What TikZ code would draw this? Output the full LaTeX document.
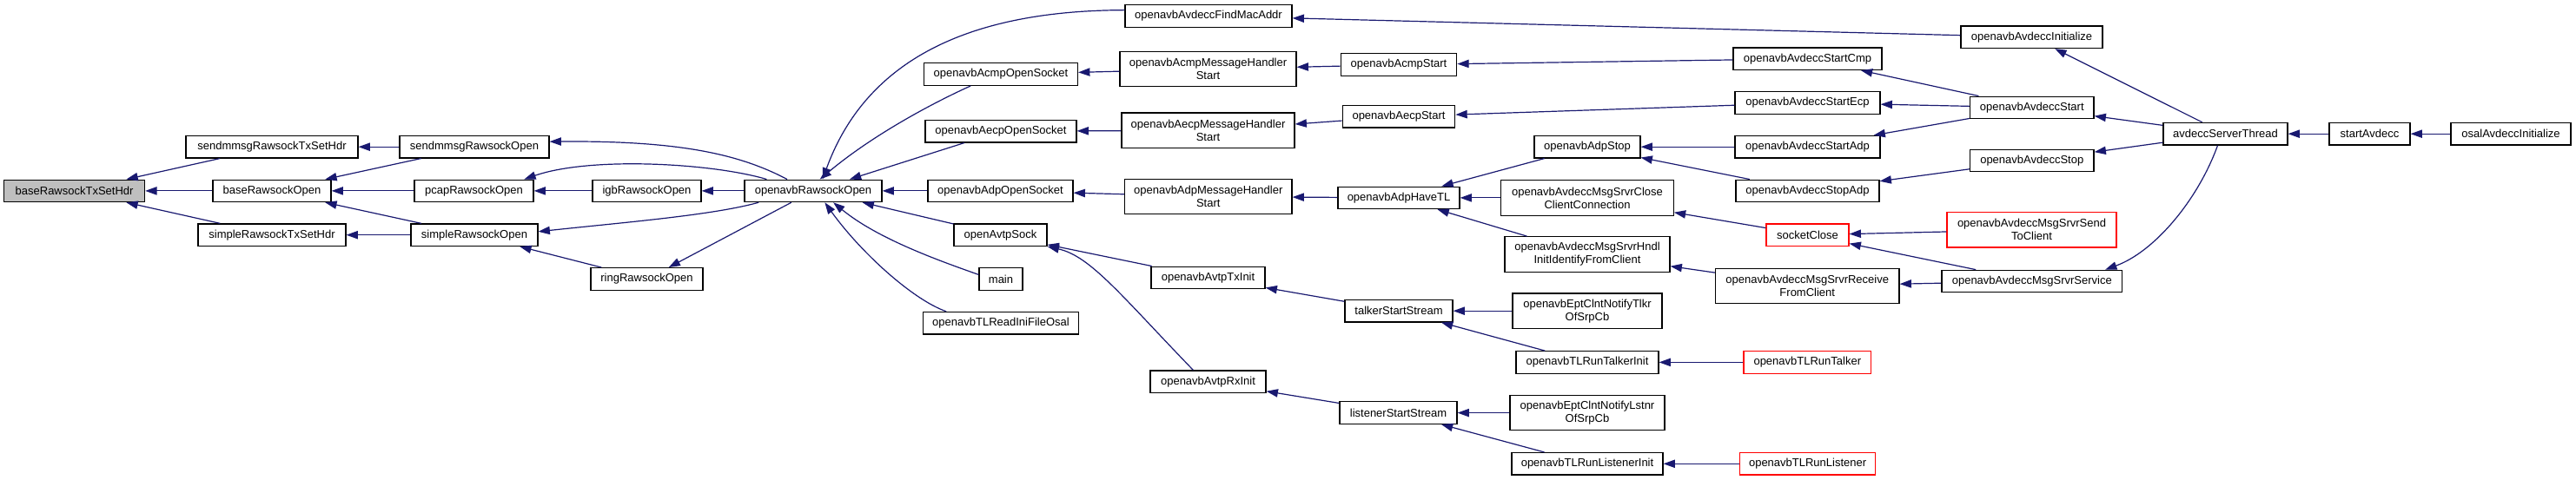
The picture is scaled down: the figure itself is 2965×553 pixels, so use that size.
\documentclass[tikz,border=0pt]{standalone}
\usepackage{fontspec}
\setmainfont{Liberation Sans}
\usetikzlibrary{arrows.meta}
\definecolor{edgeblue}{HTML}{191970}
\definecolor{rootgrey}{HTML}{BFBFBF}
\tikzset{
  fn/.style={draw=black, line width=1.2pt, inner sep=0pt, minimum height=25.5pt,
    align=center, font=\fontsize{13}{15}\selectfont},
  fn2/.style={fn, minimum height=40.5pt},
  trunc/.style={draw=red},
  rootnode/.style={fill=rootgrey},
  e/.style={draw=edgeblue, line width=1.2pt, -{Triangle[length=13.3pt,width=9.3pt]}}
}
\begin{document}
\begin{tikzpicture}[x=1pt,y=-1pt]
\useasboundingbox (0,0) rectangle (2965,553);
% column 0-4
\node[fn,rootnode,minimum width=162pt] (n0) at (85.6,219.9) {baseRawsockTxSetHdr};
\node[fn,minimum width=198pt] (n1) at (313,169.2) {sendmmsgRawsockTxSetHdr};
\node[fn,minimum width=136pt] (n2) at (313,219.9) {baseRawsockOpen};
\node[fn,minimum width=170pt] (n3) at (313,270.7) {simpleRawsockTxSetHdr};
\node[fn,minimum width=172pt] (n4) at (546,169.2) {sendmmsgRawsockOpen};
\node[fn,minimum width=137pt] (n5) at (545.5,219.9) {pcapRawsockOpen};
\node[fn,minimum width=146pt] (n6) at (546,270.7) {simpleRawsockOpen};
\node[fn,minimum width=125pt] (n7) at (744.5,219.9) {igbRawsockOpen};
\node[fn,minimum width=129pt] (n8) at (744.5,321.4) {ringRawsockOpen};
\node[fn,minimum width=158pt] (n9) at (936,219.9) {openavbRawsockOpen};
% column 5
\node[fn,minimum width=177pt] (n10) at (1152,85.6) {openavbAcmpOpenSocket};
\node[fn,minimum width=174pt] (n11) at (1152,151.2) {openavbAecpOpenSocket};
\node[fn,minimum width=167pt] (n12) at (1151.5,219.9) {openavbAdpOpenSocket};
\node[fn,minimum width=107pt] (n13) at (1151.5,270.7) {openAvtpSock};
\node[fn,minimum width=50pt] (n14) at (1152,321.4) {main};
\node[fn,minimum width=178.5pt] (n15) at (1152,372.2) {openavbTLReadIniFileOsal};
% column 6
\node[fn,minimum width=192pt] (n16) at (1391,18.4) {openavbAvdeccFindMacAddr};
\node[fn2,minimum width=203pt] (n17) at (1390.5,79.6) {openavbAcmpMessageHandler\\Start};
\node[fn2,minimum width=199pt] (n18) at (1390.5,150.3) {openavbAecpMessageHandler\\Start};
\node[fn2,minimum width=192.5pt] (n19) at (1390.75,226.4) {openavbAdpMessageHandler\\Start};
\node[fn,minimum width=131pt] (n20) at (1390.5,319.9) {openavbAvtpTxInit};
\node[fn,minimum width=133pt] (n21) at (1390.5,439.8) {openavbAvtpRxInit};
% column 7
\node[fn,minimum width=133.5pt] (n22) at (1610,74.6) {openavbAcmpStart};
\node[fn,minimum width=129.5pt] (n23) at (1610,134.3) {openavbAecpStart};
\node[fn,minimum width=140pt] (n24) at (1610,227.9) {openavbAdpHaveTL};
\node[fn,minimum width=124pt] (n25) at (1610,358.2) {talkerStartStream};
\node[fn,minimum width=135pt] (n26) at (1609.5,475.6) {listenerStartStream};
% column 8
\node[fn,minimum width=122pt] (n27) at (1827,169.2) {openavbAdpStop};
\node[fn2,minimum width=198.5pt] (n28) at (1827,227.9) {openavbAvdeccMsgSrvrClose\\ClientConnection};
\node[fn2,minimum width=190pt] (n29) at (1827,293) {openavbAvdeccMsgSrvrHndl\\InitIdentifyFromClient};
\node[fn2,minimum width=172pt] (n30) at (1827,358.2) {openavbEptClntNotifyTlkr\\OfSrpCb};
\node[fn,minimum width=164pt] (n31) at (1827,417.4) {openavbTLRunTalkerInit};
\node[fn2,minimum width=178pt] (n32) at (1827,475.6) {openavbEptClntNotifyLstnr\\OfSrpCb};
\node[fn,minimum width=174pt] (n33) at (1827,534.3) {openavbTLRunListenerInit};
% column 9
\node[fn,minimum width=171pt] (n34) at (2080.5,67.7) {openavbAvdeccStartCmp};
\node[fn,minimum width=167pt] (n35) at (2080.5,118.4) {openavbAvdeccStartEcp};
\node[fn,minimum width=167pt] (n36) at (2080.5,169.2) {openavbAvdeccStartAdp};
\node[fn,minimum width=165pt] (n37) at (2080.5,219.9) {openavbAvdeccStopAdp};
\node[fn,trunc,minimum width=95pt] (n38) at (2080.5,270.7) {socketClose};
\node[fn2,minimum width=211.5pt] (n39) at (2080.25,329.4) {openavbAvdeccMsgSrvrReceive\\FromClient};
\node[fn,trunc,minimum width=146.6pt] (n40) at (2080.3,417.4) {openavbTLRunTalker};
\node[fn,trunc,minimum width=156pt] (n41) at (2080.6,534.3) {openavbTLRunListener};
% column 10
\node[fn,minimum width=163pt] (n42) at (2338.5,42.8) {openavbAvdeccInitialize};
\node[fn,minimum width=142.5pt] (n43) at (2338.75,123.9) {openavbAvdeccStart};
\node[fn,minimum width=142.5pt] (n44) at (2338.75,185.1) {openavbAvdeccStop};
\node[fn2,trunc,minimum width=195pt] (n45) at (2338.5,264.7) {openavbAvdeccMsgSrvrSend\\ToClient};
\node[fn,minimum width=207.6pt] (n46) at (2338.8,324) {openavbAvdeccMsgSrvrService};
% columns 11-13
\node[fn,minimum width=143pt] (n47) at (2561.5,154.2) {avdeccServerThread};
\node[fn,minimum width=93pt] (n48) at (2727.5,154.2) {startAvdecc};
\node[fn,minimum width=138pt] (n49) at (2890,154.2) {osalAvdeccInitialize};

% edges (caller -> callee)
\draw[e] (n1) -- (n0);
\draw[e] (n2) -- (n0);
\draw[e] (n3) -- (n0);
\draw[e] (n4) -- (n1);
\draw[e] (n4) -- (n2);
\draw[e] (n5) -- (n2);
\draw[e] (n6) -- (n2);
\draw[e] (n6) -- (n3);
\draw[e] (n9.156) .. controls (850,177) and (780,162) .. (n4.4);
\draw[e] (n9.166) .. controls (820,188) and (680,180) .. (n5.13);
\draw[e] (n7) -- (n5);
\draw[e] (n9) -- (n7);
\draw[e] (n9.192) .. controls (820,248) and (720,256) .. (n6.3);
\draw[e] (n8) -- (n6);
\draw[e] (n9) -- (n8);
\draw[e] (n16.176) .. controls (1130,12) and (1000,60) .. (n9.51);
\draw[e] (n10.201) .. controls (1075,118) and (1005,155) .. (n9.60);
\draw[e] (n11) -- (n9);
\draw[e] (n12) -- (n9);
\draw[e] (n13) -- (n9);
\draw[e] (n14.169) .. controls (1080,300) and (1010,275) .. (n9.-30);
\draw[e] (n15.168) .. controls (1050,345) and (990,290) .. (n9.-45);
\draw[e] (n17) -- (n10);
\draw[e] (n18) -- (n11);
\draw[e] (n19) -- (n12);
\draw[e] (n20) -- (n13);
\draw[e] (n21.142) .. controls (1290,340) and (1255,295) .. (n13.south east);
\draw[e] (n42) -- (n16);
\draw[e] (n22) -- (n17);
\draw[e] (n23) -- (n18);
\draw[e] (n24) -- (n19);
\draw[e] (n25) -- (n20);
\draw[e] (n26) -- (n21);
\draw[e] (n34) -- (n22);
\draw[e] (n35) -- (n23);
\draw[e] (n27) -- (n24);
\draw[e] (n28) -- (n24);
\draw[e] (n29) -- (n24);
\draw[e] (n30) -- (n25);
\draw[e] (n31) -- (n25);
\draw[e] (n32) -- (n26);
\draw[e] (n33) -- (n26);
\draw[e] (n36) -- (n27);
\draw[e] (n37) -- (n27);
\draw[e] (n38) -- (n28);
\draw[e] (n39) -- (n29);
\draw[e] (n40) -- (n31);
\draw[e] (n41) -- (n33);
\draw[e] (n43) -- (n34);
\draw[e] (n43) -- (n35);
\draw[e] (n43) -- (n36);
\draw[e] (n44) -- (n37);
\draw[e] (n45) -- (n38);
\draw[e] (n46) -- (n38);
\draw[e] (n46) -- (n39);
\draw[e] (n47) -- (n42);
\draw[e] (n47) -- (n43);
\draw[e] (n47) -- (n44);
\draw[e] (n47.-124) .. controls (2530,230) and (2480,290) .. (n46.9);
\draw[e] (n48) -- (n47);
\draw[e] (n49) -- (n48);
\end{tikzpicture}
\end{document}
